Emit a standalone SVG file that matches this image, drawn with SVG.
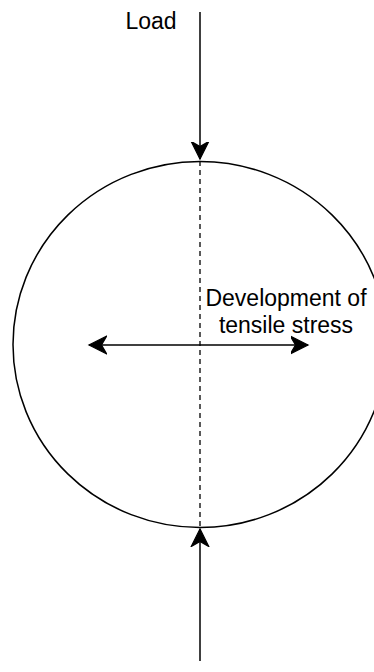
<svg xmlns="http://www.w3.org/2000/svg" width="374" height="672" viewBox="0 0 374 672">
<style>
.ln{fill:none;stroke:#000;stroke-width:1.5}
.dash{fill:none;stroke:#000;stroke-width:1.3;stroke-dasharray:5,4}
.t{font-family:"Liberation Sans",Arial,sans-serif;font-size:23px;fill:#000;text-anchor:middle}
</style>
<defs>
<marker id="ah" markerUnits="userSpaceOnUse" markerWidth="20" markerHeight="20" viewBox="-14 -8 16 16" refX="0" refY="0" orient="auto-start-reverse">
<path d="M0,0 L-14,-7 L-10,0 L-14,7 Z" fill="#000" stroke="#000" stroke-width="1"/>
</marker>
</defs>
<g id="circle">
<ellipse class="ln" cx="200" cy="344.5" rx="187" ry="183"/>
</g>
<g id="connectors">
<line class="dash" x1="200" y1="161" x2="200" y2="528"/>
<line class="ln" x1="200" y1="12" x2="200" y2="159" marker-end="url(#ah)"/>
<line class="ln" x1="200" y1="661" x2="200" y2="529" marker-end="url(#ah)"/>
<line class="ln" x1="89" y1="345" x2="308" y2="345" marker-start="url(#ah)" marker-end="url(#ah)"/>
</g>
<g id="load-label">
<text class="t" x="151" y="29">Load</text>
</g>
<g id="stress-label">
<text class="t" x="286" y="306">Development of</text>
<text class="t" x="286" y="333">tensile stress</text>
</g>
</svg>
